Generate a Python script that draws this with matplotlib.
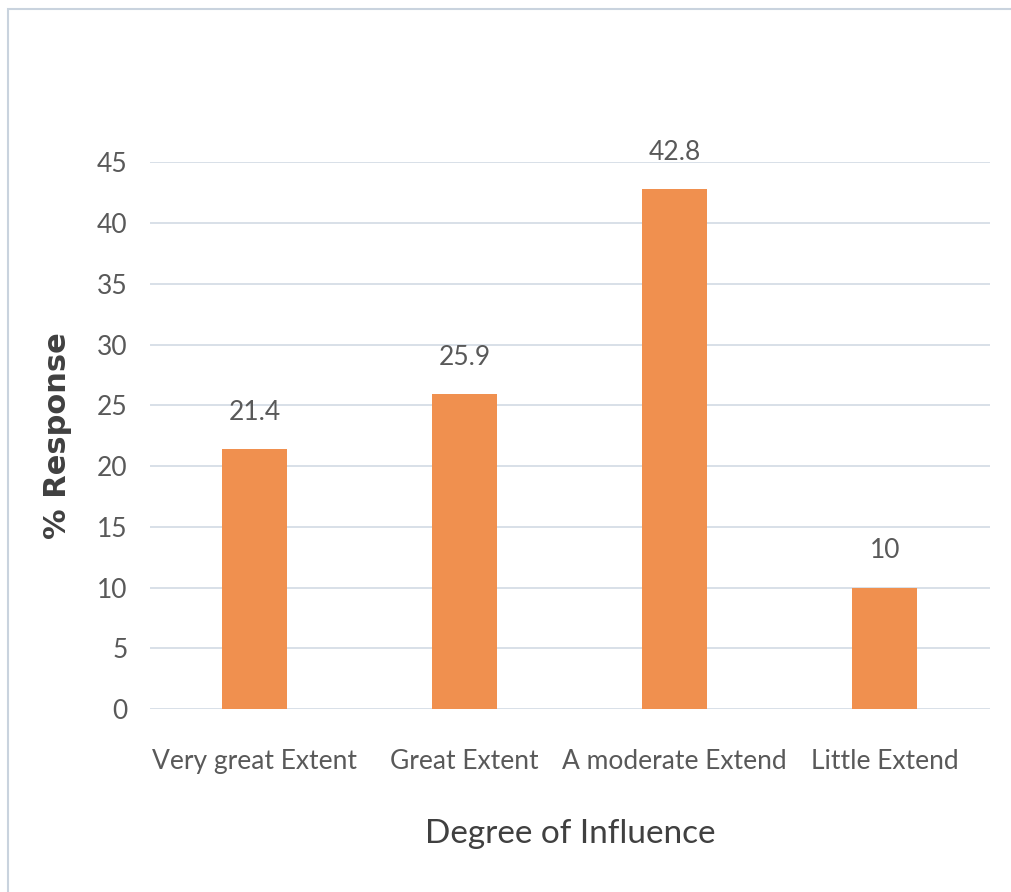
import matplotlib.pyplot as plt
from matplotlib.patches import Rectangle

categories = ["Very great Extent", "Great Extent", "A moderate Extend", "Little Extend"]
values = [21.4, 25.9, 42.8, 10]
yticks = [0, 5, 10, 15, 20, 25, 30, 35, 40, 45]

bar_color = "#F0904F"
grid_color = "#D6DDE6"
text_gray = "#595959"

narrow = ["Lato", "DejaVu Sans"]

fig = plt.figure(figsize=(10.12, 8.92), dpi=100)
ax = fig.add_axes([0.148, 0.205, 0.830, 0.613])

# faint frame around the chart area, as in the scanned figure
fig.patches.append(Rectangle((0.008, -0.01), 1.1, 1.0, transform=fig.transFigure,
                             fill=False, edgecolor="#C9D3DE", linewidth=1.5))

x = range(len(categories))
bars = ax.bar(x, values, width=0.31, color=bar_color, zorder=3)

for b, v in zip(bars, values):
    ax.text(b.get_x() + b.get_width() / 2, v + 2.0, f"{v:g}", ha="center", va="bottom",
            fontsize=19, color=text_gray, family=narrow, clip_on=False)

ax.set_xlim(-0.5, 3.5)
ax.set_ylim(0, 45)
ax.set_yticks(yticks)
ax.set_yticklabels([str(t) for t in yticks], family=narrow, fontsize=19, color=text_gray)
ax.set_xticks(list(x))
ax.set_xticklabels(categories, family=narrow, fontsize=19, color=text_gray)
ax.tick_params(axis="both", length=0)
ax.tick_params(axis="x", pad=29)
ax.tick_params(axis="y", pad=16)

ax.yaxis.grid(True, color=grid_color, linewidth=1.3, zorder=0)
for s in ax.spines.values():
    s.set_visible(False)

ax.set_ylabel("% Response", fontsize=22, fontweight="bold", color="#404040", labelpad=18)
ax.set_xlabel("Degree of Influence", fontsize=24, color="#404040", family=narrow, labelpad=32)

fig.savefig("out.png", dpi=100)
